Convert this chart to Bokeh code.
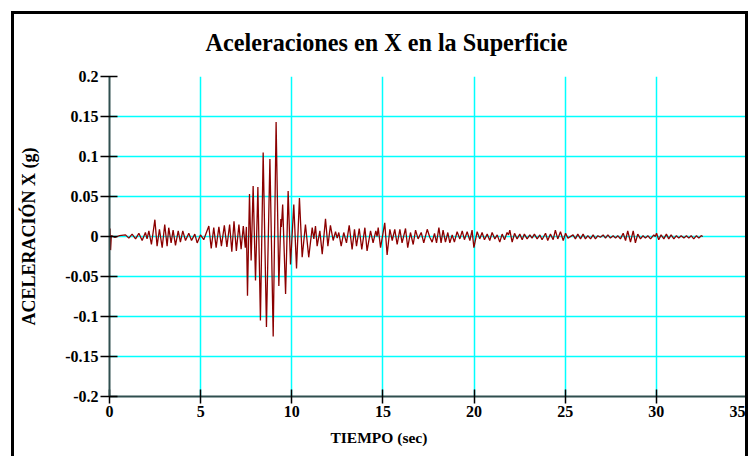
from bokeh.plotting import figure
from bokeh.models import Range1d, FixedTicker, Title
from bokeh.embed import file_html
from bokeh.resources import INLINE

# ---------------- data (extrema of the record) ----------------
time_s = [
    0.00, 0.03, 0.06, 0.10, 0.30, 0.55, 0.88, 1.06, 1.24, 1.43, 1.61, 1.79, 1.97, 2.06,
    2.16, 2.30, 2.49, 2.61, 2.74, 2.89, 3.03, 3.16, 3.25, 3.38, 3.49, 3.62, 3.77, 3.89,
    4.02, 4.17, 4.35, 4.50, 4.68, 4.81, 4.99, 5.17, 5.30,
    5.45, 5.58, 5.72, 5.85, 6.00, 6.14, 6.30, 6.44, 6.59, 6.71, 6.83, 6.96, 7.10, 7.22,
    7.34, 7.45, 7.51, 7.57, 7.68, 7.77, 7.88, 8.01, 8.14, 8.28, 8.43, 8.61, 8.80, 8.98,
    9.14, 9.29, 9.40, 9.43, 9.50, 9.66, 9.80, 9.93, 10.11, 10.26, 10.42, 10.57,
    10.75, 10.93, 11.12, 11.21, 11.30, 11.39, 11.54, 11.67, 11.85, 11.98, 12.12, 12.27,
    12.40, 12.49, 12.58, 12.71, 12.85, 13.00, 13.15, 13.31, 13.44, 13.55, 13.70, 13.84,
    14.01, 14.13, 14.32, 14.46, 14.61, 14.68, 14.74, 14.87, 15.10, 15.23, 15.38, 15.51,
    15.65, 15.78, 15.93, 16.05, 16.24, 16.36, 16.51, 16.66, 16.79, 16.93, 17.10, 17.24,
    17.43, 17.57,
    17.70, 17.83, 17.94, 18.07, 18.19, 18.30, 18.43, 18.56, 18.67, 18.80, 18.92, 19.07,
    19.22, 19.35, 19.47, 19.62, 19.77, 19.89, 19.99, 20.17, 20.31, 20.44, 20.57, 20.72,
    20.86, 20.99, 21.14, 21.27, 21.41, 21.54, 21.67, 21.81, 21.89, 21.96, 22.09, 22.22,
    22.36, 22.51, 22.64, 22.76, 22.91, 23.06, 23.18, 23.31, 23.46, 23.61, 23.73, 23.92,
    24.04, 24.19, 24.34, 24.46, 24.59, 24.74, 24.89, 25.02, 25.15,
    25.43, 25.56, 25.69, 25.84, 25.98, 26.11, 26.24, 26.39, 26.53, 26.66, 26.79, 26.93,
    27.08, 27.21, 27.34, 27.48, 27.63, 27.76, 27.88, 28.03, 28.18, 28.31, 28.43, 28.58,
    28.73, 28.85, 28.98, 29.13, 29.27, 29.40, 29.53, 29.68, 29.86, 29.94, 30.01, 30.13,
    30.26, 30.41, 30.55, 30.68, 30.81, 30.96, 31.10, 31.23, 31.36, 31.51, 31.65, 31.78,
    31.91, 32.05, 32.20, 32.33, 32.46, 32.55,
]
accel_g = [
    0.000, 0.010, -0.017, 0.001, -0.001, 0.001, 0.002, -0.002, 0.003, -0.003, 0.004, -0.005, 0.005, -0.003,
    0.007, -0.010, 0.021, -0.012, 0.009, -0.014, 0.015, -0.012, 0.011, -0.008, 0.008, -0.011, 0.007, -0.007,
    0.007, -0.005, 0.004, -0.005, 0.003, -0.008, 0.002, -0.004, 0.004,
    0.013, -0.015, 0.011, -0.014, 0.012, -0.012, 0.014, -0.013, 0.015, -0.019, 0.019, -0.018, 0.015, -0.016,
    0.013, -0.014, 0.012, -0.074, 0.053, -0.030, 0.063, -0.055, 0.062, -0.105, 0.105, -0.113, 0.097, -0.125,
    0.143, -0.062, 0.022, 0.012, 0.040, -0.072, 0.057, -0.035, 0.040, -0.040, 0.048, -0.026,
    0.015, -0.026, 0.011, -0.003, 0.013, -0.012, 0.007, -0.022, 0.022, -0.012, 0.014, -0.005,
    0.006, -0.002, 0.005, -0.012, 0.005, -0.008, 0.014, -0.016, 0.009, -0.012, 0.010, -0.016,
    0.011, -0.018, 0.007, -0.008, 0.007, 0.000, 0.011, -0.014, 0.017, -0.023, 0.009, -0.005,
    0.009, -0.010, 0.009, -0.008, 0.010, -0.014, 0.005, -0.010, 0.008, -0.003, 0.005, -0.008,
    0.009, -0.001,
    -0.007, 0.004, -0.008, 0.011, -0.008, 0.008, -0.007, 0.005, -0.008, 0.002, -0.007, 0.006,
    -0.003, 0.007, -0.004, 0.006, -0.005, 0.008, -0.014, 0.006, -0.003, 0.005, -0.004, 0.003,
    -0.005, 0.005, -0.003, 0.002, -0.007, 0.003, -0.004, 0.005, 0.002, 0.008, -0.007, 0.004,
    -0.003, 0.003, -0.004, 0.003, -0.003, 0.002, -0.002, 0.003, -0.003, 0.002, -0.004, 0.004,
    -0.005, 0.003, -0.004, 0.008, -0.003, 0.006, -0.005, 0.004, -0.002,
    0.002, -0.003, 0.003, -0.003, 0.003, -0.003, 0.001, -0.003, 0.002, -0.003, 0.001, -0.001,
    0.002, -0.002, 0.002, -0.002, 0.001, -0.002, 0.001, -0.003, 0.004, -0.005, 0.007, -0.007,
    0.007, -0.008, 0.003, -0.003, 0.001, -0.002, 0.001, -0.003, 0.002, 0.000, 0.004, -0.004,
    0.002, -0.003, 0.003, -0.003, 0.002, -0.003, 0.001, -0.002, 0.001, -0.002, 0.001, -0.002,
    0.001, -0.003, 0.001, -0.002, 0.001, 0.000,
]

x_ticks = [0, 5, 10, 15, 20, 25, 30, 35]
y_ticks = [-0.2, -0.15, -0.1, -0.05, 0, 0.05, 0.1, 0.15, 0.2]
y_tick_labels = ["-0.2", "-0.15", "-0.1", "-0.05", "0", "0.05", "0.1", "0.15", "0.2"]

title_text = "Aceleraciones en X en la Superficie"
x_label = "TIEMPO (sec)"
y_label = "ACELERACIÓN X (g)"

SERIF = "Liberation Serif"

# ---------------- figure ----------------
p = figure(width=737, height=445, output_backend="svg", toolbar_location=None,
           x_range=Range1d(0, 35), y_range=Range1d(-0.2, 0.2),
           min_border_left=95, min_border_right=4, min_border_top=62,
           min_border_bottom=63, title=None)
p.background_fill_color = "white"
p.border_fill_color = "white"
p.outline_line_color = None
# outer frame of the picture (open at the bottom, as in the original)
p.styles = {"margin-left": "11px", "margin-top": "11px",
            "border-left": "3px solid black", "border-top": "3px solid black",
            "border-right": "3px solid black"}

# grid
for g, t in ((p.xgrid, x_ticks), (p.ygrid, y_ticks)):
    g.ticker = FixedTicker(ticks=t)
    g.grid_line_color = "#00FFFF"
    g.grid_line_width = 1.5

# axes
p.xaxis.ticker = FixedTicker(ticks=x_ticks)
p.yaxis.ticker = FixedTicker(ticks=y_ticks)
p.yaxis.major_label_overrides = {v: s for v, s in zip(y_ticks, y_tick_labels)}
for ax in (p.xaxis, p.yaxis):
    ax.axis_line_color = "#2F4F4F"
    ax.axis_line_width = 2
    ax.major_tick_line_color = "black"
    ax.major_tick_line_width = 1.5
    ax.minor_tick_line_color = None
    ax.major_label_text_font = SERIF
    ax.major_label_text_font_style = "bold"
    ax.major_label_text_font_size = "16px"
    ax.major_label_text_color = "black"
p.yaxis.major_tick_in = 8
p.yaxis.major_tick_out = 9
p.yaxis.major_label_standoff = 2
p.xaxis.major_tick_in = 7
p.xaxis.major_tick_out = 7
p.xaxis.major_label_standoff = 2

p.yaxis.axis_label = y_label
p.yaxis.axis_label_text_font = SERIF
p.yaxis.axis_label_text_font_style = "bold"
p.yaxis.axis_label_text_font_size = "18px"
p.yaxis.axis_label_text_color = "black"
p.yaxis.axis_label_standoff = 23

# spacer between frame and title, then the title (left-aligned with offset)
p.add_layout(Title(text=" ", text_font_size="10px", standoff=8), "above")
p.add_layout(Title(text=title_text, align="left", offset=96, text_font=SERIF,
                   text_font_style="bold", text_font_size="24.2px", standoff=0,
                   text_color="black"), "above")
# x label as a title below
p.add_layout(Title(text=x_label, align="left", offset=221, text_font=SERIF,
                   text_font_style="bold", text_font_size="15.5px", standoff=18,
                   vertical_align="top", text_color="black"), "below")

# signal
p.line(time_s, accel_g, line_color="#8B0000", line_width=1.3)

open("out.html", "w").write(file_html(p, INLINE))
